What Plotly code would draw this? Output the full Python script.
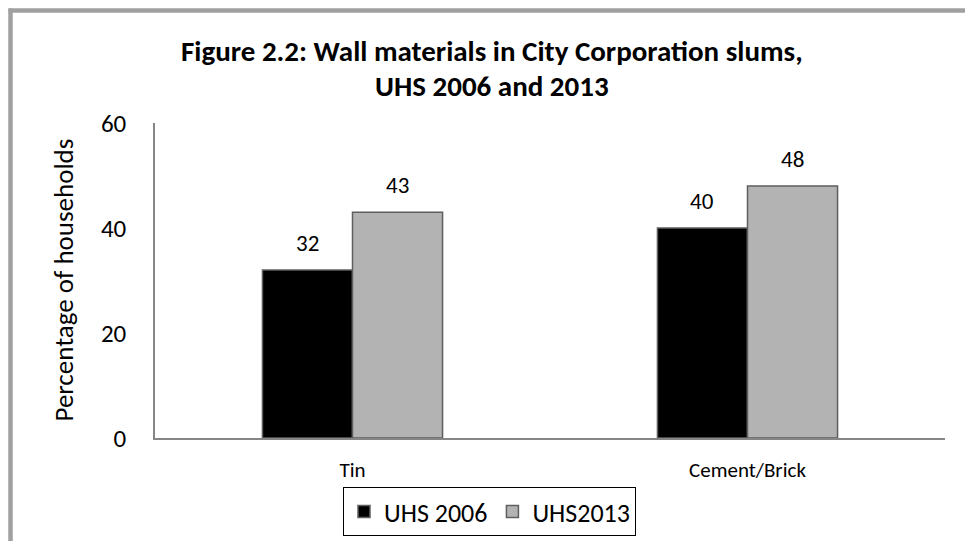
import plotly.graph_objects as go

categories = ["Tin", "Cement/Brick"]
series_names = ["UHS 2006", "UHS2013"]
uhs_2006 = [32, 40]
uhs_2013 = [43, 48]
y_ticks = [0, 20, 40, 60]
title_lines = ["Figure 2.2: Wall materials in City Corporation slums,", "UHS 2006 and 2013"]

FONT = "Carlito, Calibri, Lato, 'Open Sans', sans-serif"

L, R, T, B = 155, 20, 123, 103
W, H = 965, 541
pw, ph = W - L - R, H - T - B

def px_x(x):
    return (x - L) / pw

def px_y(y):
    return (H - B - y) / ph

fig = go.Figure()
fig.add_trace(go.Bar(
    x=categories, y=uhs_2006, name=series_names[0],
    marker=dict(color="#000000", line=dict(color="#5f5f5f", width=1.5)),
))
fig.add_trace(go.Bar(
    x=categories, y=uhs_2013, name=series_names[1],
    marker=dict(color="#b3b3b3", line=dict(color="#5f5f5f", width=1.5)),
))

# value labels placed above each bar, from the data
bar_px = pw / len(categories) * (1 - 0.544) / 2
label_annots = []
for vals, sign in ((uhs_2006, -1), (uhs_2013, 1)):
    for cat, v in zip(categories, vals):
        label_annots.append(dict(
            x=cat, y=v, xref="x", yref="y", text=str(v), showarrow=False,
            xanchor="center", yanchor="middle", xshift=sign * bar_px / 2, yshift=27,
            font=dict(size=23, family=FONT, color="#000000"),
        ))

title_annots = [
    dict(text="<b>%s</b>" % t, x=px_x(492), y=px_y(yc), xref="paper", yref="paper",
         xanchor="center", yanchor="middle", showarrow=False,
         font=dict(size=29, family=FONT, color="#000000"))
    for t, yc in zip(title_lines, (51, 86))
]

fig.update_layout(
    width=W, height=H,
    margin=dict(l=L, r=R, t=T, b=B, pad=0, autoexpand=False),
    paper_bgcolor="white", plot_bgcolor="white",
    font=dict(family=FONT, color="#000000"),
    barmode="group", bargap=0.544, bargroupgap=0,
    showlegend=True,
    legend=dict(
        orientation="h", xref="container", yref="container",
        x=343 / W, xanchor="left", y=1 - 487 / H, yanchor="top",
        bordercolor="#000000", borderwidth=1, font=dict(size=26, family=FONT),
        traceorder="normal",
    ),
    xaxis=dict(
        range=[-0.5, 1.5], showline=True, linecolor="#868686", linewidth=1.5,
        showgrid=False, ticks="", tickfont=dict(size=21, family=FONT),
        ticklabelstandoff=12, zeroline=False,
    ),
    yaxis=dict(
        range=[0, 60], tickvals=y_ticks, showline=True, linecolor="#868686",
        linewidth=1.5, showgrid=False, ticks="", zeroline=False,
        tickfont=dict(size=25, family=FONT), ticklabelstandoff=22,
    ),
    annotations=label_annots + title_annots + [
        dict(text="Percentage of households", textangle=-90,
             x=px_x(63), y=0.5, xref="paper", yref="paper",
             xanchor="center", yanchor="middle", showarrow=False,
             font=dict(size=27, family=FONT, color="#000000")),
    ],
    shapes=[
        dict(type="line", xref="paper", yref="paper",
             x0=px_x(8.5), x1=px_x(970), y0=px_y(10.5), y1=px_y(10.5),
             line=dict(color="#a0a0a0", width=4.5)),
        dict(type="line", xref="paper", yref="paper",
             x0=px_x(10.5), x1=px_x(10.5), y0=px_y(8.5), y1=px_y(545),
             line=dict(color="#a0a0a0", width=4.5)),
    ],
)

fig.write_html("out.html", config={"displayModeBar": False},
               post_script="document.body.style.margin='0';document.body.style.overflow='hidden';")
